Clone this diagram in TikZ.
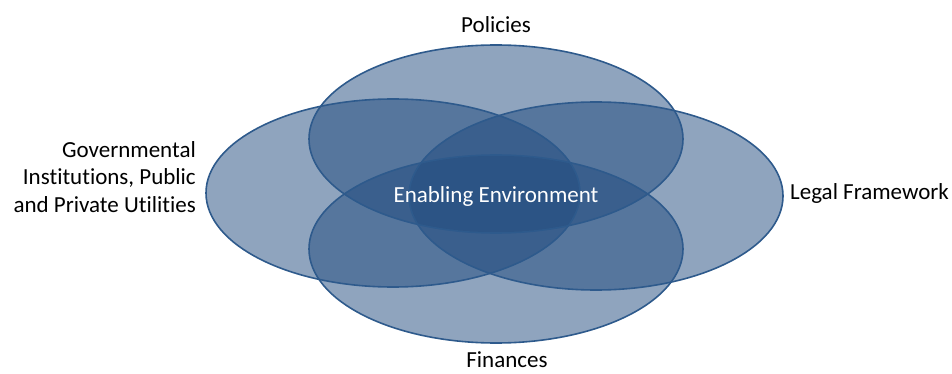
\documentclass[tikz,border=0pt]{standalone}
\usepackage{fontspec}
\setmainfont[Ligatures=NoCommon]{Carlito}
\definecolor{vfill}{HTML}{1F497D}
\definecolor{vedge}{HTML}{2E5A8C}
\begin{document}
\begin{tikzpicture}[x=1pt,y=-1pt,
  setfill/.style={fill=vfill,fill opacity=0.5,draw=none},
  setedge/.style={draw=vedge,line width=1.6pt},
  lbl/.style={font=\fontsize{23}{27.5}\selectfont,text=black,inner sep=0pt},
  centerlbl/.style={font=\fontsize{23}{27.5}\selectfont,text=white,inner sep=0pt}]
\useasboundingbox (0,0) rectangle (952,374);
% set centres
\coordinate (ctop) at (496,139);
\coordinate (cbot) at (496,249);
\coordinate (cleft) at (393,193);
\coordinate (cright) at (596,196);
% fills
\foreach \c in {ctop,cleft,cright,cbot}
  \path[setfill] (\c) ellipse [x radius=187pt, y radius=94pt];
% edges
\foreach \c in {ctop,cleft,cright,cbot}
  \path[setedge] (\c) ellipse [x radius=187pt, y radius=94pt];
% labels
\node[lbl,anchor=base] (policies) at (496,33) {Policies};
\node[lbl,anchor=base] (finances) at (507,367) {Finances};
\node[lbl,anchor=base west] (legal) at (790,200) {Legal Framework};
\node[lbl,anchor=east,align=right] (gov) at (196,177) {Governmental\\Institutions, Public\\and Private Utilities};
\node[centerlbl,anchor=base] (env) at (496,202) {Enabling Environment};
\end{tikzpicture}
\end{document}
